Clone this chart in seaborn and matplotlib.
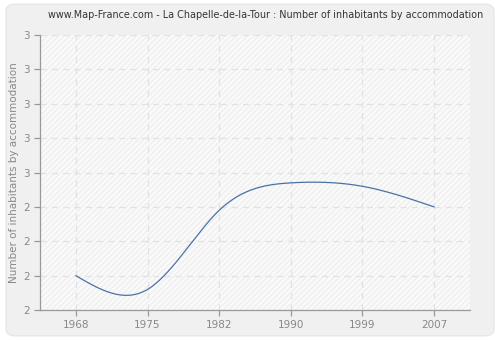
import numpy as np
import pandas as pd
import seaborn as sns
import matplotlib
matplotlib.use("Agg")
import matplotlib.pyplot as plt
from matplotlib.patches import FancyBboxPatch, Rectangle
from matplotlib.ticker import FuncFormatter, FixedLocator

years = ["1968", "1975", "1982", "1990", "1999", "2007"]
values = [2.20, 2.16, 2.39, 2.47, 2.46, 2.40]
y_ticks = [2.1, 2.2, 2.3, 2.4, 2.5, 2.6, 2.7, 2.8, 2.9]


def natural_spline(x, y, n=300):
    x = np.asarray(x, float)
    y = np.asarray(y, float)
    k = len(x)
    h = np.diff(x)
    A = np.zeros((k, k))
    b = np.zeros(k)
    A[0, 0] = 1
    A[-1, -1] = 1
    for i in range(1, k - 1):
        A[i, i - 1] = h[i - 1]
        A[i, i] = 2 * (h[i - 1] + h[i])
        A[i, i + 1] = h[i]
        b[i] = 3 * ((y[i + 1] - y[i]) / h[i] - (y[i] - y[i - 1]) / h[i - 1])
    c = np.linalg.solve(A, b)
    xs = np.linspace(x[0], x[-1], n)
    ys = np.empty_like(xs)
    for j, xv in enumerate(xs):
        i = min(np.searchsorted(x, xv, side="right") - 1, k - 2)
        dx = xv - x[i]
        bi = (y[i + 1] - y[i]) / h[i] - h[i] * (2 * c[i] + c[i + 1]) / 3
        di = (c[i + 1] - c[i]) / (3 * h[i])
        ys[j] = y[i] + bi * dx + c[i] * dx ** 2 + di * dx ** 3
    return xs, ys


sns.set_theme(style="white")
plt.rcParams["font.family"] = ["DejaVu Sans"]

fig = plt.figure(figsize=(5, 3.4), dpi=100)
fig.patch.set_facecolor("white")
panel = FancyBboxPatch((0.012, 0.012), 0.976, 0.976, boxstyle="round,pad=0,rounding_size=0.02",
                       transform=fig.transFigure, facecolor="#f0f0f0", edgecolor="#e4e4e4",
                       linewidth=0.8, zorder=-10)
fig.patches.append(panel)

ax = fig.add_axes([0.08, 0.088, 0.86, 0.809])
ax.set_facecolor("#fafafa")
ax.add_patch(Rectangle((0, 0), 1, 1, transform=ax.transAxes, facecolor="none",
                       edgecolor="#efefef", hatch="//////", linewidth=0, zorder=0))

idx = np.arange(len(years))
xs, ys = natural_spline(idx, values)
df = pd.DataFrame({"x": xs, "y": ys})
sns.lineplot(data=df, x="x", y="y", ax=ax, color="#4a72a6", linewidth=0.9, zorder=3)

ax.set_xlim(-0.5, len(years) - 0.5)
ax.set_ylim(y_ticks[0], y_ticks[-1])
ax.xaxis.set_major_locator(FixedLocator(idx))
ax.set_xticklabels(years)
ax.yaxis.set_major_locator(FixedLocator(y_ticks))
ax.yaxis.set_major_formatter(FuncFormatter(lambda v, p: "%d" % int(np.floor(v + 0.5 + 1e-9))))

ax.grid(True, color="#e2e2e2", linestyle=(0, (5, 4)), linewidth=0.9)
ax.set_axisbelow(True)
for s in ["top", "right"]:
    ax.spines[s].set_visible(False)
for s in ["left", "bottom"]:
    ax.spines[s].set_color("#999999")
    ax.spines[s].set_linewidth(0.9)
ax.tick_params(axis="both", colors="#999999", labelcolor="#888888", labelsize=7.5,
               length=4, width=0.9, direction="out", left=True, bottom=True, pad=3)

ax.set_xlabel("")
ax.set_ylabel("Number of inhabitants by accommodation", fontsize=7.5, color="#888888", labelpad=3)
fig.text(0.532, 0.957, "www.Map-France.com - La Chapelle-de-la-Tour : Number of inhabitants by accommodation",
         ha="center", va="center", fontsize=6.9, color="#333333")

fig.savefig("out.png", dpi=100, facecolor=fig.get_facecolor())
